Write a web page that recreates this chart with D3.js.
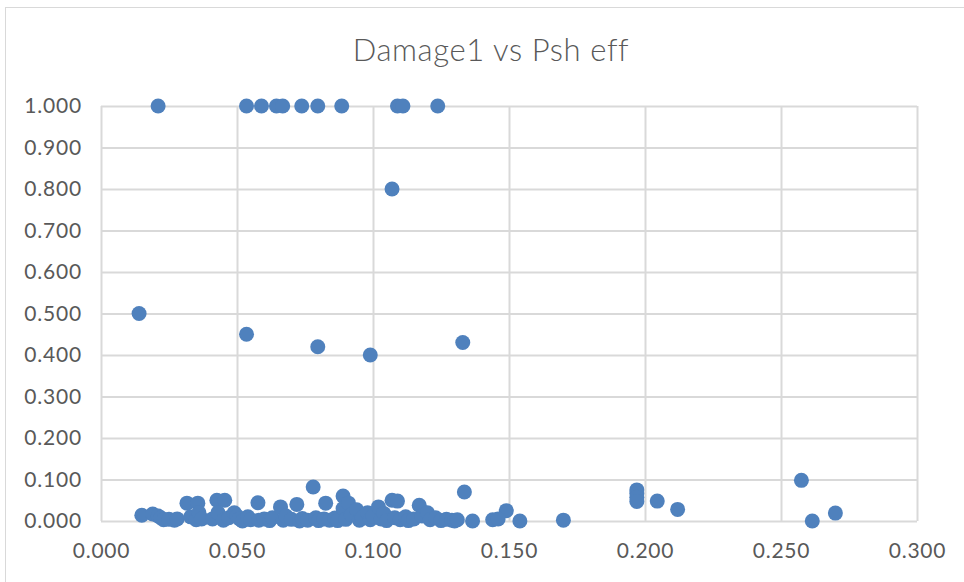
<!DOCTYPE html>
<html><head><meta charset="utf-8">
<script src="https://cdn.jsdelivr.net/npm/d3@7"></script>
<style>body{margin:0;background:#fff}svg{display:block}</style>
</head><body>
<svg id="c" width="964" height="582"></svg>
<script>
const title = "Damage1 vs Psh eff";
const xTicks = [0, 0.05, 0.1, 0.15, 0.2, 0.25, 0.3];
const yTicks = [0, 0.1, 0.2, 0.3, 0.4, 0.5, 0.6, 0.7, 0.8, 0.9, 1.0];
// Psh eff (x)
const pshEff = [
 0.021,0.0535,0.059,0.0645,0.0668,0.0738,0.0797,0.0885,0.109,0.111,0.1238,
 0.107,0.014,0.0535,0.0797,0.099,0.133,
 0.2575,0.2615,0.270,
 0.197,0.197,0.197,0.197,0.2045,0.212,
 0.170,0.154,0.149,0.144,0.146,0.1366,0.1336,
 0.015,0.019,0.021,0.022,0.023,0.025,0.027,0.028,0.0316,0.033,0.035,0.0356,0.036,0.037,0.0426,0.0455,0.041,0.043,0.045,0.047,0.049,0.050,0.051,0.052,0.054,0.055,
 0.0577,0.058,0.060,0.062,0.063,0.066,0.067,0.068,0.070,0.072,0.073,0.074,0.076,0.078,0.079,0.080,0.0826,0.082,0.084,0.086,0.087,0.089,0.089,0.091,0.090,0.092,0.094,0.095,0.096,0.098,0.099,
 0.100,0.102,0.103,0.104,0.105,0.107,0.109,0.108,0.110,0.112,0.113,0.115,0.117,0.118,0.120,0.121,0.123,0.125,0.127,0.129,0.130,0.131
];
// Damage1 (y)
const damage1 = [
 1,1,1,1,1,1,1,1,1,1,1,
 0.8,0.5,0.45,0.42,0.40,0.43,
 0.098,0.0,0.019,
 0.075,0.066,0.057,0.047,0.048,0.028,
 0.002,0.0,0.025,0.003,0.005,0.0,0.07,
 0.014,0.017,0.012,0.008,0.003,0.004,0.002,0.005,0.043,0.010,0.003,0.043,0.02,0.005,0.05,0.05,0.005,0.02,0.002,0.008,0.02,0.012,0.005,0.0,0.01,0.003,
 0.044,0.002,0.005,0.001,0.008,0.034,0.002,0.012,0.004,0.04,0.0,0.006,0.002,0.082,0.008,0.001,0.043,0.005,0.002,0.007,0.001,0.06,0.03,0.043,0.004,0.015,0.027,0.002,0.008,0.02,0.003,
 0.012,0.034,0.005,0.018,0.001,0.05,0.048,0.008,0.003,0.01,0.001,0.005,0.038,0.012,0.02,0.003,0.008,0.001,0.004,0.002,0.0,0.003
];

const svg = d3.select("#c");
const W = 964, H = 582;
const m = {l: 101, r: 964-917, t: 106, b: 582-521};
const x = d3.scaleLinear().domain([0, 0.3]).range([m.l, W - m.r]);
const y = d3.scaleLinear().domain([0, 1]).range([H - m.b, m.t]);
const fmt = d3.format(".3f");
const font = "Lato, 'Open Sans', sans-serif";

// chart border
svg.append("rect").attr("x", 5.5).attr("y", 7.5).attr("width", 1200).attr("height", 1200)
  .attr("fill", "none").attr("stroke", "#d9d9d9").attr("stroke-width", 1);

// gridlines
svg.append("g").attr("transform", `translate(0,${H - m.b})`)
  .call(d3.axisBottom(x).tickValues(xTicks).tickSize(-(H - m.b - m.t)).tickFormat(""))
  .call(g => g.select(".domain").remove())
  .call(g => g.selectAll("line").attr("stroke", "#d9d9d9").attr("stroke-width", 2));
svg.append("g").attr("transform", `translate(${m.l},0)`)
  .call(d3.axisLeft(y).tickValues(yTicks).tickSize(-(W - m.r - m.l)).tickFormat(""))
  .call(g => g.select(".domain").remove())
  .call(g => g.selectAll("line").attr("stroke", "#d9d9d9").attr("stroke-width", 2));

// axis labels
const xa = svg.append("g").attr("transform", `translate(0,${H - m.b})`)
  .call(d3.axisBottom(x).tickValues(xTicks).tickSize(0).tickPadding(21).tickFormat(fmt));
xa.select(".domain").remove();
xa.selectAll("text").attr("font-family", font).attr("font-size", 21).attr("letter-spacing", 0.8)
  .attr("fill", "#595959").attr("dy", "0.75em");
const ya = svg.append("g").attr("transform", `translate(${m.l},0)`)
  .call(d3.axisLeft(y).tickValues(yTicks).tickSize(0).tickPadding(19).tickFormat(fmt));
ya.select(".domain").remove();
ya.selectAll("text").attr("font-family", font).attr("font-size", 21).attr("letter-spacing", 0.8)
  .attr("fill", "#595959");

// title
svg.append("text").attr("x", 491).attr("y", 61).attr("text-anchor", "middle")
  .attr("font-family", font).attr("font-weight", 300).attr("font-size", 31).attr("letter-spacing", 0.6)
  .attr("fill", "#595959").text(title);

// points
const pts = pshEff.map((v, i) => [v, damage1[i]]);
svg.append("g").selectAll("circle").data(pts).join("circle")
  .attr("cx", d => x(d[0])).attr("cy", d => y(d[1])).attr("r", 7.5)
  .attr("fill", "#4f81bd");
</script>
</body></html>
